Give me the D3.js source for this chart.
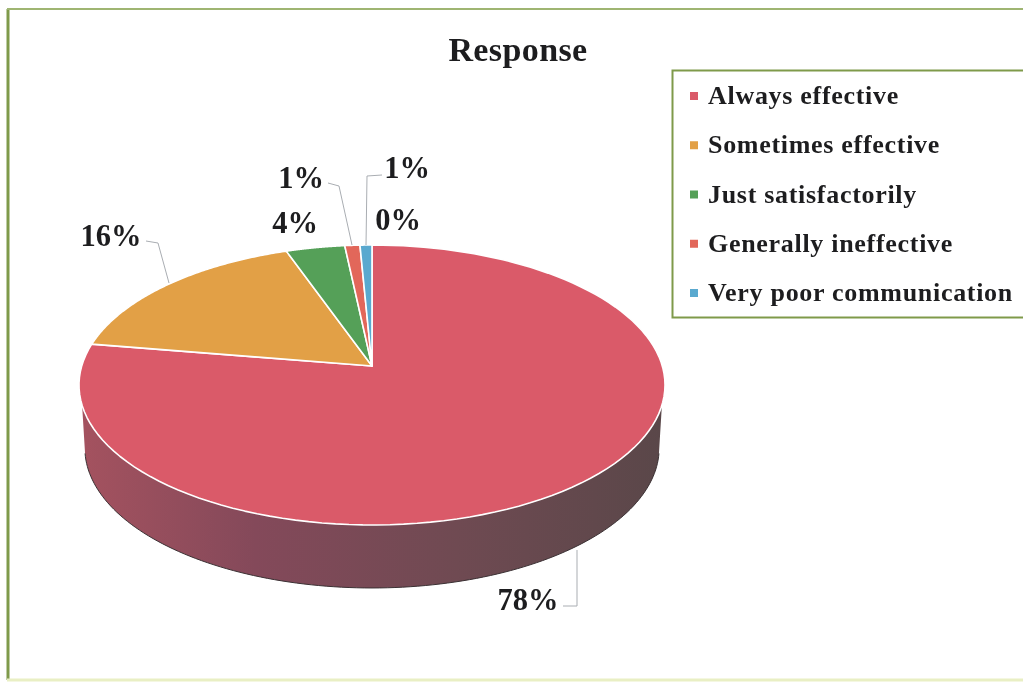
<!DOCTYPE html>
<html><head><meta charset="utf-8">
<script src="https://cdn.jsdelivr.net/npm/d3@7/dist/d3.min.js"></script>
<style>html,body{margin:0;padding:0;background:#fff}svg{display:block;filter:blur(0.4px)}
text{font-family:"Liberation Serif",serif;font-weight:bold;fill:#1d1d1f}</style>
</head><body><script>
const categories=["Always effective","Sometimes effective","Just satisfactorily","Generally ineffective","Very poor communication"];
const sliceValues=[77.6,17,3.7,0.95,0.75];
const colors=["#da5a69","#e2a046","#55a058","#e2675a","#5aa9cf"];
const valueLabels=["78%","16%","4%","1%","1%"];
const extraLabel="0%";
const title="Response";

const W=1023,H=682;
const svg=d3.select("body").append("svg").attr("width",W).attr("height",H);
const defs=svg.append("defs");
const grad=defs.append("linearGradient").attr("id","wall");
[[0,"#a4525f"],[0.3,"#84495a"],[0.65,"#6f4a52"],[1,"#5a4749"]].forEach(([o,c])=>grad.append("stop").attr("offset",o).attr("stop-color",c));

// frame
const frame="#7f9a4a";
svg.append("line").attr("x1",8).attr("x2",8).attr("y1",9).attr("y2",680).attr("stroke",frame).attr("stroke-width",3);
svg.append("line").attr("x1",7).attr("x2",W).attr("y1",9).attr("y2",9).attr("stroke","#9fb572").attr("stroke-width",2);
svg.append("line").attr("x1",7).attr("x2",W).attr("y1",680).attr("y2",680).attr("stroke","#e9efc4").attr("stroke-width",3);

svg.append("text").attr("x",518).attr("y",61).attr("text-anchor","middle").attr("font-size",34).attr("letter-spacing",0.4).attr("fill","#26262a").text(title);

// perspective projection of the unit pie disc
const cx=372,cy=366,k=0.1357,a=137.4,b=290.3,depth=63,bottomScale=0.98;
const deg=Math.PI/180;
const project=(ang,r=1)=>{const u=r*Math.sin(ang),v=r*Math.cos(ang),d=1+k*v;return [cx+b*u/d,cy-a*v/d];};
const pieGen=d3.pie().sort(null).value(d=>d);
const arcs=pieGen(sliceValues);
const line=d3.line().curve(d3.curveLinear);
const arcPts=(s,e)=>d3.range(0,121).map(i=>project(s+(e-s)*i/120));

// side wall
const front=arcPts(106*deg,254*deg);
const bottom=arcPts(100*deg,260*deg).map(p=>[cx+(p[0]-cx)*bottomScale,p[1]+depth]);
const wall=front.concat(bottom.slice().reverse());
svg.append("path").attr("d",line(wall)+"Z").attr("fill","url(#wall)");
svg.append("path").attr("d",line(bottom)).attr("fill","none").attr("stroke","#3a3033").attr("stroke-width",1);

// top surface
svg.selectAll("path.slice").data(arcs).join("path").attr("class","slice")
 .attr("d",d=>line([[cx,cy]].concat(arcPts(d.startAngle,d.endAngle)))+"Z")
 .attr("fill",(d,i)=>colors[i]).attr("stroke","#fff").attr("stroke-width",1.6).attr("stroke-linejoin","round");

// data labels with leader lines
const labelPos=[{x:528,y:610,lead:[[563,606],[577,606],[577,550]]},
 {x:111,y:246,lead:[[146,241],[158,243],[169,283]]},
 {x:295,y:233},
 {x:301,y:188,lead:[[328,183],[339,186],[352,245]]},
 {x:407,y:178,lead:[[382,175],[367,176],[366,245]]}];
const leaderG=svg.append("g");
labelPos.forEach((p,i)=>{
 if(p.lead) leaderG.append("path").attr("d",line(p.lead)).attr("fill","none").attr("stroke","#a9adb2").attr("stroke-width",1);
 svg.append("text").attr("x",p.x).attr("y",p.y).attr("text-anchor","middle").attr("font-size",30.5).text(valueLabels[i]);
});
svg.append("text").attr("x",398).attr("y",230).attr("text-anchor","middle").attr("font-size",30.5).text(extraLabel);

// legend
svg.append("rect").attr("x",672.5).attr("y",70.5).attr("width",W).attr("height",247).attr("fill","#fff").attr("stroke",frame).attr("stroke-width",2);
const ly=d3.scalePoint().domain(categories).range([96,293]);
const lg=svg.selectAll("g.leg").data(categories).join("g").attr("class","leg").attr("transform",d=>`translate(0,${ly(d)})`);
lg.append("rect").attr("x",690).attr("y",-4).attr("width",8).attr("height",8).attr("fill",(d,i)=>colors[i]);
lg.append("text").attr("x",708).attr("y",8).attr("font-size",26).attr("letter-spacing",0.7).text(d=>d);
</script></body></html>
